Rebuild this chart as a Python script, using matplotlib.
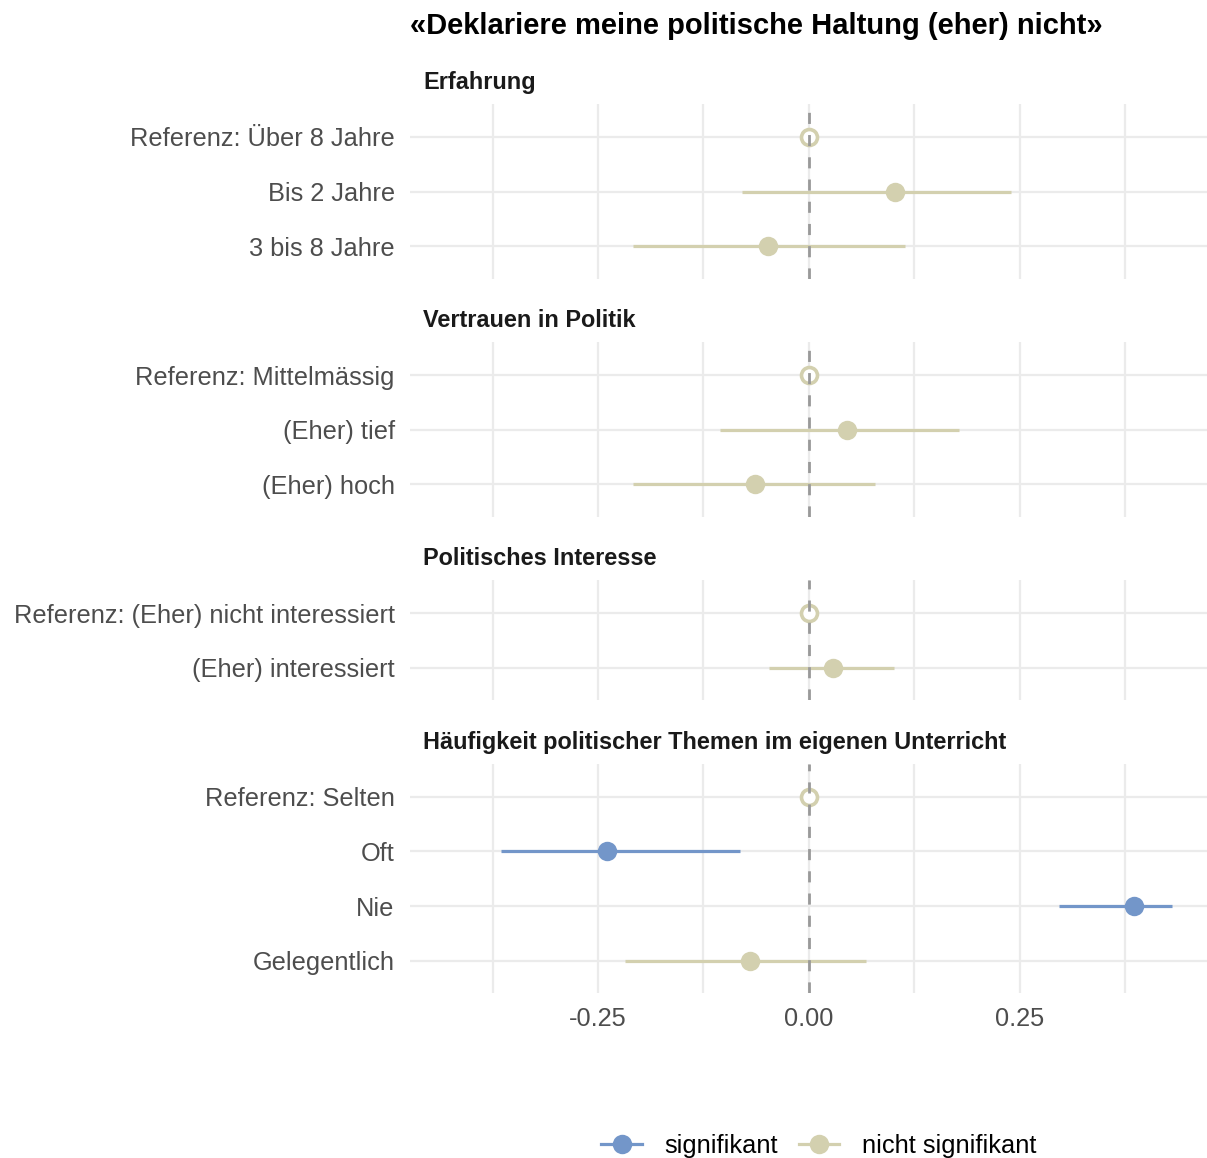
import matplotlib.pyplot as plt
import numpy as np
from matplotlib.lines import Line2D

plt.rcParams['font.family'] = ['Liberation Sans', 'DejaVu Sans']

title = '«Deklariere meine politische Haltung (eher) nicht»'

groups = ['Erfahrung', 'Vertrauen in Politik', 'Politisches Interesse',
          'Häufigkeit politischer Themen im eigenen Unterricht']

labels = [
    ['Referenz: Über 8 Jahre', 'Bis 2 Jahre', '3 bis 8 Jahre'],
    ['Referenz: Mittelmässig', '(Eher) tief', '(Eher) hoch'],
    ['Referenz: (Eher) nicht interessiert', '(Eher) interessiert'],
    ['Referenz: Selten', 'Oft', 'Nie', 'Gelegentlich'],
]
estimates = [
    [0.0, 0.102, -0.048],
    [0.0, 0.045, -0.064],
    [0.0, 0.028],
    [0.0, -0.239, 0.386, -0.070],
]
lower = [
    [np.nan, -0.079, -0.208],
    [np.nan, -0.105, -0.208],
    [np.nan, -0.047],
    [np.nan, -0.365, 0.297, -0.218],
]
upper = [
    [np.nan, 0.240, 0.114],
    [np.nan, 0.178, 0.078],
    [np.nan, 0.101],
    [np.nan, -0.082, 0.430, 0.068],
]
significant = [
    [False, False, False],
    [False, False, False],
    [False, False],
    [False, True, True, False],
]

blue = '#7396C9'
beige = '#D3D0AF'
grid_col = '#EBEBEB'

W, H = 1207, 1158
fig = plt.figure(figsize=(W / 100, H / 100), dpi=100)

row_px = 54.5
first_row = [137, 375, 613, 797]
left_px, right_px = 410, 1207
xlim = (-0.473, 0.472)

for i, grp in enumerate(groups):
    n = len(labels[i])
    top = first_row[i] - 0.6 * row_px
    height = (n + 0.2) * row_px
    ax = fig.add_axes([left_px / W, 1 - (top + height) / H,
                       (right_px - left_px) / W, height / H])
    ax.set_xlim(xlim)
    ax.set_ylim(n + 0.6, 0.4)
    ys = np.arange(1, n + 1)

    for s in ax.spines.values():
        s.set_visible(False)
    ax.set_xticks([-0.25, 0.0, 0.25])
    ax.set_xticks([-0.375, -0.125, 0.125, 0.375], minor=True)
    ax.grid(True, which='both', axis='x', color=grid_col, lw=1.6, zorder=0)
    ax.set_yticks(ys)
    ax.set_yticklabels(labels[i])
    ax.grid(True, axis='y', color=grid_col, lw=1.6, zorder=0)
    ax.tick_params(axis='both', which='both', length=0)
    ax.tick_params(axis='both', labelsize=18.3, labelcolor='#4D4D4D', pad=11)
    ax.set_axisbelow(True)

    fig.text(423 / W, 1 - (top - 22) / H, grp, fontsize=16.9,
             fontweight='bold', color='#1A1A1A', va='center', ha='left')

    for y, est, lo, hi, sig in zip(ys, estimates[i], lower[i], upper[i], significant[i]):
        col = blue if sig else beige
        if np.isnan(lo):
            ax.plot(est, y, 'o', ms=11.5, mfc='white', mec=col, mew=2.6, zorder=3)
        else:
            ax.plot([lo, hi], [y, y], color=col, lw=2.3, solid_capstyle='butt', zorder=3)
            ax.plot(est, y, 'o', ms=14, color=col, mew=0, zorder=4)

    ax.axvline(0, color='#999999', lw=2.0, dashes=(4, 4), zorder=5)

    if i < len(groups) - 1:
        ax.tick_params(axis='x', labelbottom=False)
    else:
        ax.tick_params(axis='x', pad=10)
        ax.set_xticklabels(['-0.25', '0.00', '0.25'])

fig.text(410 / W, 1 - 26 / H, title, fontsize=21, fontweight='bold',
         color='black', ha='left', va='center')

handles = [
    Line2D([0], [0], color=blue, lw=2.3, marker='o', ms=14, mew=0),
    Line2D([0], [0], color=beige, lw=2.3, marker='o', ms=14, mew=0),
]
fig.legend(handles, ['signifikant', 'nicht signifikant'], ncol=2, frameon=False,
           loc='center', bbox_to_anchor=(819 / W, 1 - 1146 / H),
           fontsize=18.3, handlelength=1.6, columnspacing=0.8, handletextpad=0.9)

fig.savefig('out.png', dpi=100)
